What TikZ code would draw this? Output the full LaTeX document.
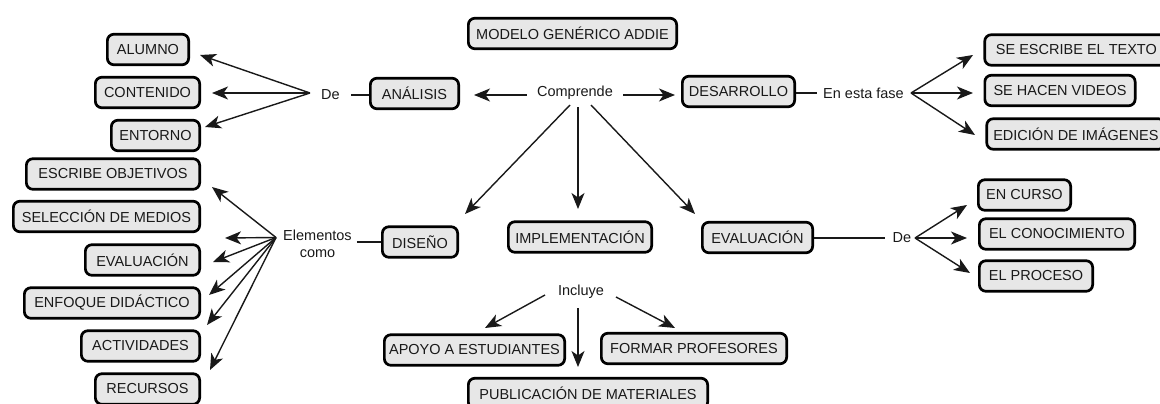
\documentclass[tikz,border=0pt]{standalone}
\usepackage{fontspec}
\setmainfont{Liberation Sans}
\usetikzlibrary{arrows.meta}
\definecolor{boxgray}{RGB}{231,231,231}
\definecolor{inkc}{RGB}{25,25,25}
\begin{document}
\begin{tikzpicture}[x=1pt,y=-1pt,
  box/.style={draw=black, line width=2.7pt, rounded corners=6.5pt, fill=boxgray,
    inner xsep=2pt, inner ysep=0pt, minimum height=30.5pt, text=inkc,
    font=\fontsize{14.5}{17}\selectfont},
  lbl/.style={inner ysep=0pt, text=inkc, font=\fontsize{14.5}{17}\selectfont},
  conn/.style={line width=1.4pt, draw=inkc},
  arr/.style={conn, -{Stealth[length=16pt,width=13pt,inset=4.5pt]}}]
\useasboundingbox (0,0) rectangle (1160,404);
\clip (0,0) rectangle (1160,404);

% ---- boxes, left column
\node[box, minimum width=81.3pt]  (alumno)      at (148,49.5)  {ALUMNO};
\node[box, minimum width=104.3pt] (contenido)   at (147.5,92.5) {CONTENIDO};
\node[box, minimum width=88.3pt]  (entorno)     at (155.5,135.5) {ENTORNO};
\node[box, minimum width=173.3pt] (escribe)     at (113,174)   {ESCRIBE OBJETIVOS};
\node[box, minimum width=186.3pt] (seleccion)   at (106.5,216.5) {SELECCIÓN DE MEDIOS};
\node[box, minimum width=114.3pt] (evall)       at (142.5,260) {EVALUACIÓN};
\node[box, minimum width=175.3pt] (enfoque)     at (112,303)   {ENFOQUE DIDÁCTICO};
\node[box, minimum width=118.3pt] (actividades) at (140.5,346) {ACTIVIDADES};
\node[box, minimum width=104.3pt] (recursos)    at (147.5,389) {RECURSOS};

% ---- boxes, centre
\node[box, minimum width=88.3pt]  (analisis)    at (414.5,93.5) {ANÁLISIS};
\node[box, minimum width=208.3pt] (modelo)      at (572.5,33.5) {MODELO GENÉRICO ADDIE};
\node[box, minimum width=112.3pt] (desarrollo)  at (738.5,91.5) {DESARROLLO};
\node[box, minimum width=75.3pt]  (diseno)      at (420,242)   {DISEÑO};
\node[box, minimum width=143.3pt] (implem)      at (580,237)   {IMPLEMENTACIÓN};
\node[box, minimum width=110.3pt] (evalr)       at (757.5,237.5) {EVALUACIÓN};
\node[box, minimum width=180.3pt] (apoyo)       at (474.5,350) {APOYO A ESTUDIANTES};
\node[box, minimum width=185.3pt] (formar)      at (694,348.5) {FORMAR PROFESORES};
\node[box, minimum width=239.3pt] (publicacion) at (588,393.5) {PUBLICACIÓN DE MATERIALES};

% ---- boxes, right column
\node[box, minimum width=183.3pt, anchor=west] (seescribe) at (983.4,50)  {SE ESCRIBE EL TEXTO};
\node[box, minimum width=150.3pt] (sehacen)     at (1060,90.5) {SE HACEN VIDEOS};
\node[box, minimum width=178.3pt, anchor=west] (edicion)   at (985.4,134) {EDICIÓN DE IMÁGENES};
\node[box, minimum width=92.3pt]  (encurso)     at (1024.5,195) {EN CURSO};
\node[box, minimum width=155.3pt] (conocimiento) at (1057,234) {EL CONOCIMIENTO};
\node[box, minimum width=113.3pt] (proceso)     at (1036,276)  {EL PROCESO};

% ---- linking labels
\node[lbl, inner xsep=11.5pt] (del)      at (330.5,95)  {De};
\node[lbl, inner xsep=5pt, align=center] (elementos) at (317.5,243.5) {Elementos\\como};
\node[lbl, inner xsep=10pt] (comprende)  at (575,93)    {Comprende};
\node[lbl, inner xsep=6.5pt] (enfase)    at (863.5,93)  {En esta fase};
\node[lbl, inner xsep=8pt] (der)         at (902,238)   {De};
\node[lbl] (incluye)                     at (581,292)   {Incluye};

% ---- hubs and arrow tips
\coordinate (hubDe)   at (310,93);
\coordinate (hubEl)   at (276,237.5);
\coordinate (hubEn)   at (911,93);
\coordinate (hubDr)   at (915,238);

\coordinate (tAlumno)  at (200,55);
\coordinate (tConten)  at (212,93);
\coordinate (tEntorno) at (205,127);

\coordinate (tEscribe) at (212,187);
\coordinate (tSelecc)  at (225,238);
\coordinate (tEvalL)   at (213,262);
\coordinate (tEnfoque) at (209,295);
\coordinate (tActiv)   at (207,325);
\coordinate (tRecur)   at (210,370);

\coordinate (tAnalisis) at (474,95);
\coordinate (tDesarr)   at (675,95);
\coordinate (cDL) at (570,105);
\coordinate (cDM) at (578,107);
\coordinate (cDR) at (591,105);
\coordinate (tDiseno)  at (465,214);
\coordinate (tImplem)  at (578,209);
\coordinate (tEvalR)   at (695,214);

\coordinate (tSeEscr)  at (973,55);
\coordinate (tSeHac)   at (973,93);
\coordinate (tEdicion) at (975,135);

\coordinate (tEnCurso) at (967,205);
\coordinate (tConoc)   at (967,238);
\coordinate (tProceso) at (970,273);

\coordinate (iL) at (545,295);
\coordinate (iM) at (578,308);
\coordinate (iR) at (616,297);
\coordinate (tApoyo)  at (485,328);
\coordinate (tPublic) at (578,367);
\coordinate (tFormar) at (675,328);

% ---- plain connecting lines
\draw[conn] (del.east) -- (del.east -| analisis.west);
\draw[conn] (elementos.east |- 0,242) -- (diseno.west |- 0,242);
\draw[conn] (enfase.west) -- (enfase.west -| desarrollo.east);
\draw[conn] (der.west) -- (der.west -| evalr.east);

% ---- arrows
\draw[arr] (hubDe) -- (tAlumno);
\draw[arr] (hubDe) -- (tConten);
\draw[arr] (hubDe) -- (tEntorno);

\draw[arr] (hubEl) -- (tEscribe);
\draw[arr] (hubEl) -- (tSelecc);
\draw[arr] (hubEl) -- (tEvalL);
\draw[arr] (hubEl) -- (tEnfoque);
\draw[arr] (hubEl) -- (tActiv);
\draw[arr] (hubEl) -- (tRecur);

\draw[arr] (comprende.west |- tAnalisis) -- (tAnalisis);
\draw[arr] (comprende.east |- tDesarr) -- (tDesarr);
\draw[arr] (cDL) -- (tDiseno);
\draw[arr] (cDM) -- (tImplem);
\draw[arr] (cDR) -- (tEvalR);

\draw[arr] (hubEn) -- (tSeEscr);
\draw[arr] (hubEn) -- (tSeHac);
\draw[arr] (hubEn) -- (tEdicion);

\draw[arr] (hubDr) -- (tEnCurso);
\draw[arr] (hubDr) -- (tConoc);
\draw[arr] (hubDr) -- (tProceso);

\draw[arr] (iL) -- (tApoyo);
\draw[arr] (iM) -- (tPublic);
\draw[arr] (iR) -- (tFormar);
\end{tikzpicture}
\end{document}
